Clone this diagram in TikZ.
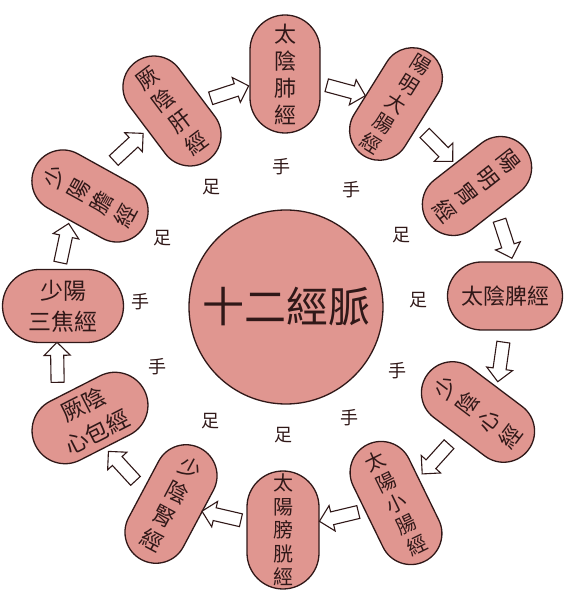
\documentclass[tikz,border=0pt]{standalone}
\usepackage{fontspec}
\usepackage{tikz}
\usetikzlibrary{shapes.arrows,calc}
\newfontfamily\cjk{Noto Sans CJK TC}
\definecolor{meridianfill}{RGB}{224,150,144}
\definecolor{inkline}{RGB}{48,24,24}

\begin{document}
\begin{tikzpicture}[x=1pt, y=1pt,
  meridian/.style={draw=inkline, fill=meridianfill, line width=1.3pt, inner sep=0pt, align=center, text=inkline},
  vcap/.style 2 args={meridian, minimum width=#1pt, minimum height=#2pt, rounded corners=0.5*#1pt, font=\cjk\fontsize{22}{27}\selectfont},
  hcap/.style 2 args={meridian, minimum width=#1pt, minimum height=#2pt, rounded corners=0.5*#2pt, font=\cjk\fontsize{23}{31}\selectfont},
  five/.style={font=\cjk\fontsize{20}{23.5}\selectfont},
  hub/.style={meridian, circle, minimum size=194pt, font=\cjk\fontsize{42}{44}\selectfont},
  limb/.style={font=\cjk\fontsize{18}{20}\selectfont, text=inkline, inner sep=1pt},
  passage/.style={single arrow, draw=inkline, fill=white, line width=1.1pt, minimum height=40pt, inner xsep=0pt, inner ysep=6pt, single arrow head extend=6.5pt, sloped, allow upside down},
]
  \useasboundingbox (0,0) rectangle (577,595);

  % Centre
  \node[hub] (hub) at (286,288) {十二經脈};

  % Meridians, clockwise from the top
  \node[vcap={70}{118}] (tyf) at (285,521) {太\\陰\\肺\\經};
  \node[vcap={60}{122}, five, rotate=-32] (ymdc) at (396,491) {陽\\明\\大\\腸\\經};
  \node[vcap={62}{122}, rotate=-52] (ymw) at (477,409) {陽\\明\\胃\\經};
  \node[hcap={115}{68}, font=\cjk\fontsize{22}{26}\selectfont] (typ) at (505,299) {太陰脾經};
  \node[vcap={62}{126}, rotate=53] (syx) at (478,183) {少\\陰\\心\\經};
  \node[vcap={62}{130}, five, rotate=26] (tyxc) at (396,92) {太\\陽\\小\\腸\\經};
  \node[vcap={72}{118}, five] (tybg) at (283,65) {太\\陽\\膀\\胱\\經};
  \node[vcap={62}{126}, rotate=-28] (sysh) at (171,91) {少\\陰\\腎\\經};
  \node[hcap={122}{66}, rotate=27] (jyxb) at (90,177) {厥陰\\心包經};
  \node[hcap={121}{73}] (sysj) at (63,289) {少陽\\三焦經};
  \node[vcap={62}{124}, rotate=61] (syd) at (90,399) {少\\陽\\膽\\經};
  \node[vcap={62}{122}, rotate=37] (jyg) at (172,484) {厥\\陰\\肝\\經};

  % Flow between meridians
  \path (jyg) -- node[passage] (a1) {} (tyf);
  \path (tyf) -- node[passage] (a2) {} (ymdc);
  \path (ymdc) -- node[passage] (a3) {} (ymw);
  \path (ymw.east) -- node[passage] (a4) {} ([xshift=8pt]typ.north);
  \path (typ.south) -- node[passage] (a5) {} (syx.east);
  \path (syx) -- node[passage] (a6) {} (tyxc);
  \path (tyxc) -- node[passage] (a7) {} (tybg);
  \path (tybg) -- node[passage] (a8) {} (sysh);
  \path (sysh.west) -- node[passage] (a9) {} (jyxb.south);
  \path ([xshift=-17pt]jyxb.north) -- node[passage] (a10) {} ([xshift=-6pt]sysj.south);
  \path ([xshift=-4pt]sysj.north) -- node[passage] (a11) {} ([xshift=-6pt]syd.west);
  \path (syd.east) -- node[passage] (a12) {} (jyg.west);

  % Hand / foot labels
  \foreach \x/\y/\lab [count=\i] in {281/428/手, 351/405/手, 401/360/足, 418/295/足,
      397/224/手, 349/177/手, 283/160/足, 210/174/足, 157/228/手, 140/293/手,
      162/357/足, 211/408/足}
    \node[limb] (limb\i) at (\x,\y) {\lab};
\end{tikzpicture}
\end{document}
